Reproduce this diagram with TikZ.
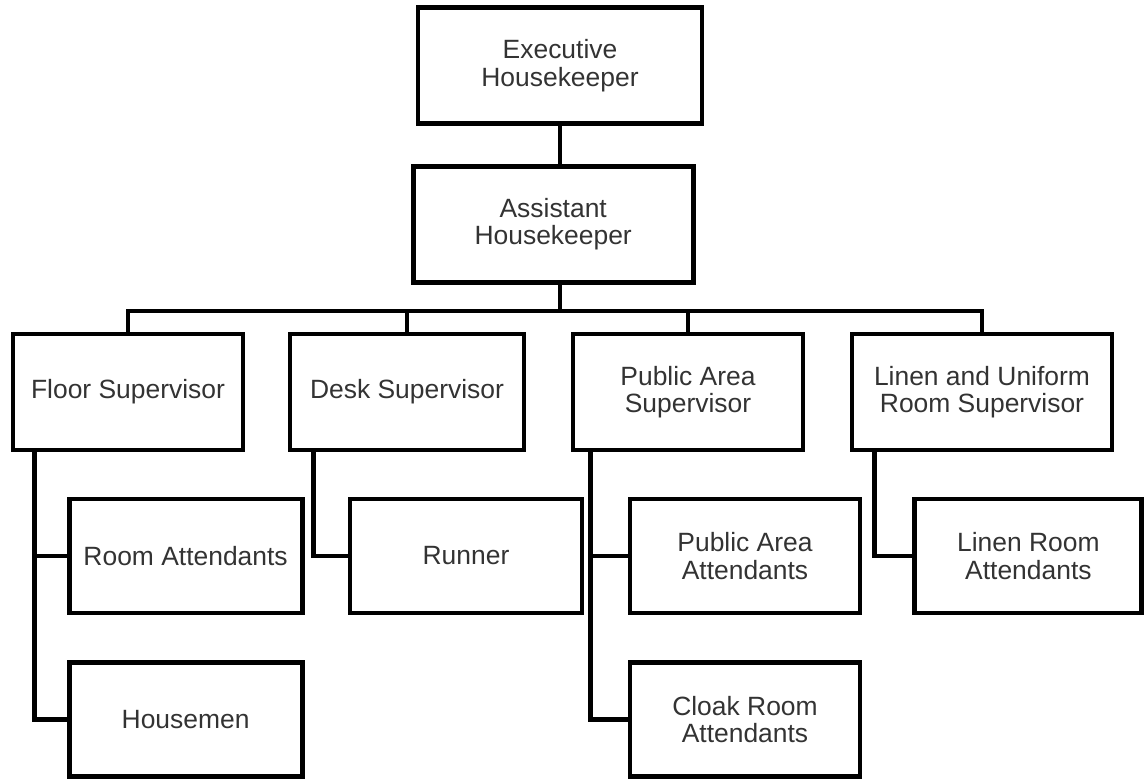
\documentclass[tikz,border=0pt]{standalone}
\usepackage{fontspec}
\setmainfont{Liberation Sans}
\usetikzlibrary{calc}

\begin{document}
\begin{tikzpicture}[
  every node/.style={font=\fontsize{18.8}{19.5}\selectfont, text=black!80},
  post/.style={draw=black, line width=3.5pt, minimum height=2.9cm, minimum width=5.75cm, align=center, inner sep=2pt},
  link/.style={line width=3.5pt}
]
\useasboundingbox (0,0) rectangle (28.6,19.45);

% Top of the chart
\node[post, minimum width=7.1cm] (exec) at (14.0, 17.81) {Executive\\Housekeeper};
\node[post, minimum width=7.0cm] (asst) at (13.83, 13.84) {Assistant\\Housekeeper};

% Supervisors
\node[post] (floor) at (3.2, 9.65) {Floor Supervisor};
\node[post, minimum width=5.85cm] (desk) at (10.175, 9.65) {Desk Supervisor};
\node[post] (public) at (17.2, 9.65) {Public Area\\Supervisor};
\node[post, minimum width=6.5cm] (linen) at (24.55, 9.65) {Linen and Uniform\\Room Supervisor};

% Attendants
\node[post, minimum height=2.85cm, minimum width=5.825cm] (room) at (4.64, 5.55) {Room Attendants};
\node[post, minimum height=2.85cm, minimum width=5.825cm] (housemen) at (4.64, 1.46) {Housemen};
\node[post, minimum height=2.85cm, minimum width=5.8cm] (runner) at (11.65, 5.55) {Runner};
\node[post, minimum height=2.85cm] (publicatt) at (18.625, 5.55) {Public Area\\Attendants};
\node[post, minimum height=2.85cm] (cloak) at (18.625, 1.46) {Cloak Room\\Attendants};
\node[post, minimum height=2.85cm, minimum width=5.675cm] (linenatt) at (25.71, 5.55) {Linen Room\\Attendants};

% Lines from the top
\coordinate (bus) at (14.05, 11.675);
\draw[link] (exec.south) -- (exec.south |- asst.north);
\draw[link] (exec.south |- asst.south) -- (exec.south |- bus);
\draw[link] (floor.north) |- (bus) -| (linen.north);
\draw[link] (desk.north) -- (desk.north |- bus);
\draw[link] (public.north) -- (public.north |- bus);

% Lines down to the attendants
\draw[link] ([xshift=0.6cm]floor.south west) |- (housemen.west);
\draw[link] ([xshift=0.6cm]floor.south west) |- (room.west);
\draw[link] ([xshift=0.65cm]desk.south west) |- (runner.west);
\draw[link] ([xshift=0.5cm]public.south west) |- (cloak.west);
\draw[link] ([xshift=0.5cm]public.south west) |- (publicatt.west);
\draw[link] ([xshift=0.625cm]linen.south west) |- (linenatt.west);

\end{tikzpicture}
\end{document}
